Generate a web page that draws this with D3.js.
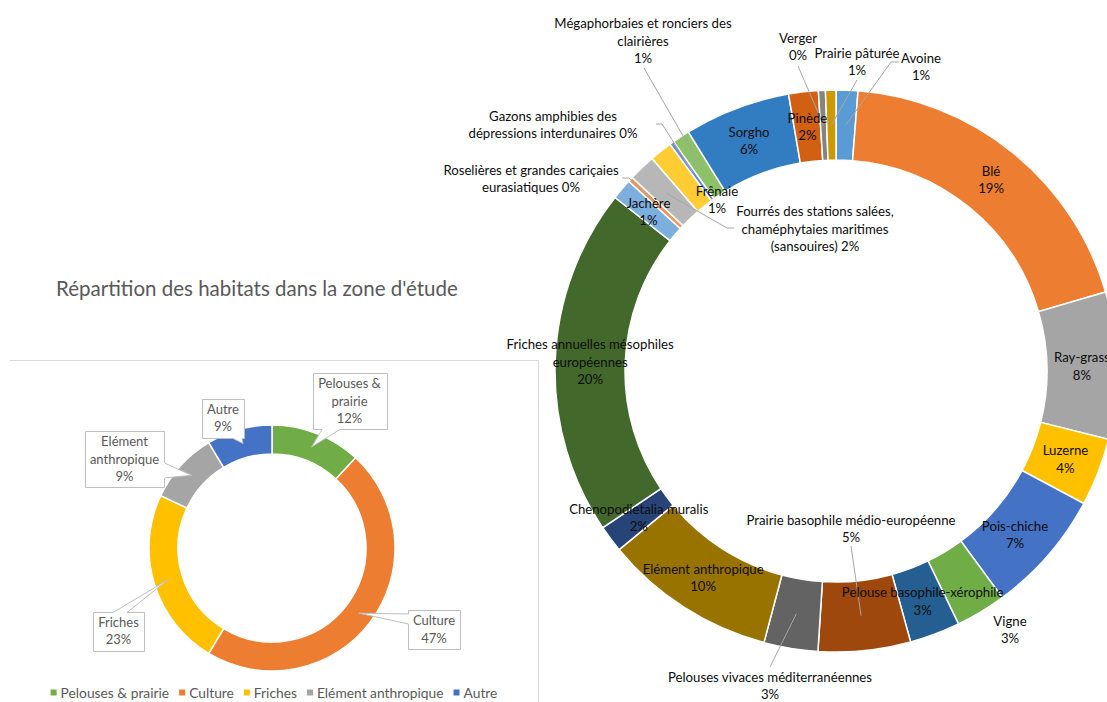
<!DOCTYPE html>
<html>
<head>
<meta charset="utf-8">
<script src="https://cdn.jsdelivr.net/npm/d3@7"></script>
<style>
  body { margin: 0; background: #fff; }
  svg { display: block; }
  text { font-family: Lato, "Open Sans", "Liberation Sans", sans-serif; }
</style>
</head>
<body>
<svg id="chart" width="1107" height="702"></svg>
<script>
// ---- Detailed habitats (outer ring, clockwise from 12 o'clock), share of study area in %
const habitats = [
  "Avoine", "Blé", "Ray-grass", "Luzerne", "Pois-chiche", "Vigne",
  "Pelouse basophile-xérophile", "Prairie basophile médio-européenne",
  "Pelouses vivaces méditerranéennes", "Elément anthropique", "Chenopodietalia muralis",
  "Friches annuelles mésophiles européennes", "Jachère",
  "Roselières et grandes cariçaies eurasiatiques",
  "Fourrés des stations salées, chaméphytaies maritimes (sansouires)",
  "Frênaie", "Gazons amphibies des dépressions interdunaires",
  "Mégaphorbaies et ronciers des clairières", "Sorgho", "Pinède", "Verger", "Prairie pâturée"
];
const habitatShares = [
  1.25, 19.2, 8.45, 3.9, 7.1, 2.9,
  2.9, 5.3,
  3.1, 9.9, 1.55,
  20.0, 1.2,
  0.3,
  1.55,
  1.3, 0.25,
  1.0, 6.1, 1.7, 0.4, 0.6
];
const habitatColors = [
  "#5B9BD5", "#ED7D31", "#A5A5A5", "#FFC000", "#4472C4", "#70AD47",
  "#255E91", "#9E480E", "#636363", "#997300", "#264478",
  "#43682B", "#7CAFDD", "#F1975A", "#B7B7B7",
  "#FFCD33", "#698ED0", "#8CC168", "#327DC2", "#D26012", "#848484", "#CC9A00"
];

// ---- Habitat groups (summary ring)
const groups = ["Pelouses & prairie", "Culture", "Friches", "Elément anthropique", "Autre"];
const groupShares = [11.9, 46.7, 23.4, 9.4, 8.6];
const groupColors = ["#70AD47", "#ED7D31", "#FFC000", "#A5A5A5", "#4472C4"];

const chartTitle = "Répartition des habitats dans la zone d'étude";

// ---- Label wrapping ({p} = percentage)
const wrap = {
  "Mégaphorbaies et ronciers des clairières": ["Mégaphorbaies et ronciers des", "clairières", "{p}"],
  "Gazons amphibies des dépressions interdunaires": ["Gazons amphibies des", "dépressions interdunaires {p}"],
  "Roselières et grandes cariçaies eurasiatiques": ["Roselières et grandes cariçaies", "eurasiatiques {p}"],
  "Fourrés des stations salées, chaméphytaies maritimes (sansouires)": ["Fourrés des stations salées,", "chaméphytaies maritimes", "(sansouires) {p}"],
  "Friches annuelles mésophiles européennes": ["Friches annuelles mésophiles", "européennes", "{p}"],
  "Pelouses & prairie": ["Pelouses &", "prairie", "{p}"],
  "Elément anthropique (groupe)": ["Elément", "anthropique", "{p}"]
};

// Labels moved away from the ring: centre of the text block, leader line points
// (relative to the text centre) ending on the slice centroid.
const moved = {
  "Vigne": { at: [1010, 630] },
  "Prairie basophile médio-européenne": { at: [851, 529], leader: [[0, 17]] },
  "Pelouses vivaces méditerranéennes": { at: [770, 686], leader: [[0, -19]] },
  "Roselières et grandes cariçaies eurasiatiques": { at: [531, 179], leader: [[91, -1], [98, -1]] },
  "Fourrés des stations salées, chaméphytaies maritimes (sansouires)": { at: [815, 229], leader: [[-81, -1], [-88, -1]] },
  "Frênaie": { at: [717, 200] },
  "Gazons amphibies des dépressions interdunaires": { at: [553, 125], leader: [[103, -1], [109, -1]] },
  "Mégaphorbaies et ronciers des clairières": { at: [643, 41], leader: [[1, 27]] },
  "Verger": { at: [798, 47], leader: [[0, 19]] },
  "Prairie pâturée": { at: [857, 62], leader: [[0, 18]] },
  "Avoine": { at: [921, 67], leader: [[-22, -5], [-30, -5]] },
  "Pois-chiche": { at: [1015, 535] }
};

// Callout boxes of the summary ring: box centre, side carrying the pointer, pointer base span
const callouts = {
  "Pelouses & prairie": { at: [349.5, 401], side: "bottom", base: [322, 340] },
  "Culture": { at: [434, 629.5], side: "left", base: [614, 624] },
  "Friches": { at: [118.5, 631], side: "top", base: [113, 127] },
  "Elément anthropique": { at: [124.5, 459], side: "right", base: [463, 478] },
  "Autre": { at: [223, 418], side: "bottom", base: [233, 242] }
};

const svg = d3.select("#chart");
const pct = (v, total) => Math.round(v / total * 100) + "%";
const LH = 17.5;

function drawLines(g, lines, x, y, fill, size) {
  const t = g.append("text")
    .attr("x", x).attr("y", y)
    .attr("text-anchor", "middle")
    .attr("fill", fill)
    .style("font-size", size + "px");
  const y0 = y - (lines.length - 1) * LH / 2;
  lines.forEach((s, i) => {
    t.append("tspan").attr("x", x).attr("y", y0 + i * LH).attr("dy", "0.35em").text(s);
  });
  return t;
}

// ---------------- Summary chart frame, title and ring ----------------
svg.append("path")
  .attr("d", "M10,360.5H538.5V702")
  .attr("fill", "none").attr("stroke", "#D9D9D9").attr("stroke-width", 1);

svg.append("text")
  .attr("x", 56).attr("y", 296)
  .attr("fill", "#595959")
  .style("font-size", "20.5px")
  .text(chartTitle);

const small = { cx: 272, cy: 548, r0: 94, r1: 123 };
const pie = d3.pie().sort(null).value(d => d.value);
const groupData = groups.map((name, i) => ({ name, value: groupShares[i], color: groupColors[i] }));
const groupTotal = d3.sum(groupShares);
const smallArc = d3.arc().innerRadius(small.r0).outerRadius(small.r1);
const gSmall = svg.append("g").attr("transform", `translate(${small.cx},${small.cy})`);
const smallArcs = pie(groupData);
gSmall.selectAll("path").data(smallArcs).join("path")
  .attr("d", smallArc)
  .attr("fill", d => d.data.color)
  .attr("stroke", "#fff").attr("stroke-width", 1.5);

// callouts
const gCall = svg.append("g");
smallArcs.forEach(a => {
  const c = callouts[a.data.name];
  const [tx, ty] = smallArc.centroid(a);
  const tip = [small.cx + tx, small.cy + ty];
  const key = a.data.name === "Elément anthropique" ? "Elément anthropique (groupe)" : a.data.name;
  const lines = (wrap[key] || [a.data.name, "{p}"]).map(s => s.replace("{p}", pct(a.data.value, groupTotal)));
  const g = gCall.append("g");
  const box = g.append("path");
  const t = drawLines(g, lines, c.at[0], c.at[1], "#595959", 13);
  const bb = t.node().getBBox();
  const x0 = Math.round(bb.x - 5) + 0.5, x1 = Math.round(bb.x + bb.width + 5) + 0.5;
  const y0 = Math.round(c.at[1] - lines.length * LH / 2 - 2) + 0.5, y1 = Math.round(c.at[1] + lines.length * LH / 2 + 2) + 0.5;
  let pts;
  const [b0, b1] = c.base;
  if (c.side === "bottom") pts = [[x0, y0], [x1, y0], [x1, y1], [b1, y1], tip, [b0, y1], [x0, y1]];
  else if (c.side === "top") pts = [[x0, y0], [b0, y0], tip, [b1, y0], [x1, y0], [x1, y1], [x0, y1]];
  else if (c.side === "left") pts = [[x0, y0], [x1, y0], [x1, y1], [x0, y1], [x0, b1], tip, [x0, b0]];
  else pts = [[x0, y0], [x1, y0], [x1, b0], tip, [x1, b1], [x1, y1], [x0, y1]];
  box.attr("d", "M" + pts.map(p => p.join(",")).join("L") + "Z")
    .attr("fill", "#fff").attr("stroke", "#BFBFBF").attr("stroke-width", 1);
});

// legend
const gLeg = svg.append("g").attr("transform", "translate(0,693)");
const items = [];
groups.forEach((name, i) => {
  const it = gLeg.append("g");
  it.append("rect").attr("x", 0).attr("y", -3.5).attr("width", 6).attr("height", 6).attr("fill", groupColors[i]);
  const t = it.append("text").attr("x", 10).attr("y", 0).attr("dy", "0.35em")
    .attr("fill", "#595959").style("font-size", "13.8px").text(name);
  const w = 10 + t.node().getComputedTextLength();
  items.push({ it, w });
});
const gap = 10;
const legW = d3.sum(items, d => d.w) + gap * (items.length - 1);
let lx = 274 - legW / 2;
items.forEach(d => { d.it.attr("transform", `translate(${lx},0)`); lx += d.w + gap; });

// ---------------- Detailed ring ----------------
const big = { cx: 836, cy: 371, r0: 211, r1: 281 };
const habitatData = habitats.map((name, i) => ({ name, value: habitatShares[i], color: habitatColors[i] }));
const habitatTotal = d3.sum(habitatShares);
const bigArc = d3.arc().innerRadius(big.r0).outerRadius(big.r1);
const gBig = svg.append("g").attr("transform", `translate(${big.cx},${big.cy})`);
const bigArcs = pie(habitatData);
gBig.selectAll("path").data(bigArcs).join("path")
  .attr("d", bigArc)
  .attr("fill", d => d.data.color)
  .attr("stroke", "#fff").attr("stroke-width", 1.5);

const gLeaders = svg.append("g");
const gLabels = svg.append("g");
bigArcs.forEach(a => {
  const name = a.data.name;
  const [dx, dy] = bigArc.centroid(a);
  const cen = [big.cx + dx, big.cy + dy];
  const m = moved[name];
  const at = m ? m.at : cen;
  const lines = (wrap[name] || [name, "{p}"]).map(s => s.replace("{p}", pct(a.data.value, habitatTotal)));
  if (m && m.leader) {
    const pts = m.leader.map(p => [at[0] + p[0], at[1] + p[1]]).concat([cen]);
    gLeaders.append("path")
      .attr("d", d3.line()(pts))
      .attr("fill", "none").attr("stroke", "#A6A6A6").attr("stroke-width", 1);
  }
  drawLines(gLabels, lines, at[0], at[1], "#0D0D0D", 13.2);
});
</script>
</body>
</html>
